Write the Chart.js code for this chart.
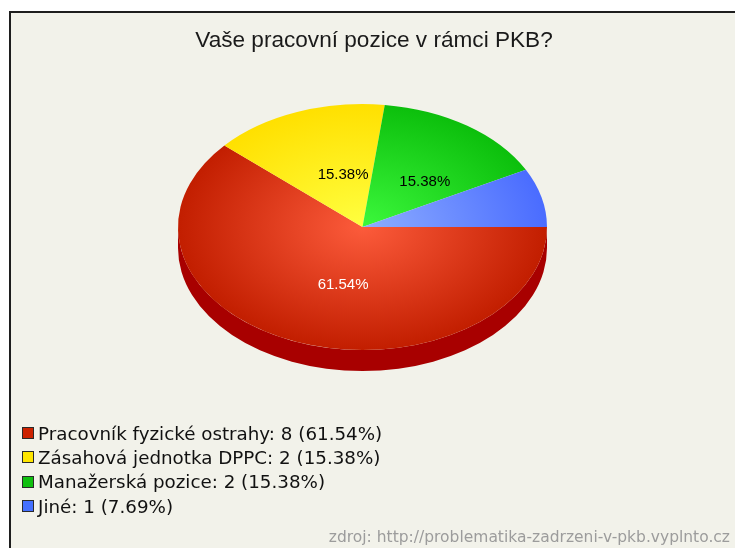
<!DOCTYPE html>
<html>
<head>
<meta charset="utf-8">
<script src="https://cdn.jsdelivr.net/npm/chart.js@4/dist/chart.umd.min.js"></script>
<style>
  html, body { margin: 0; padding: 0; background: #fff; overflow: hidden; }
  #frame {
    position: absolute; left: 9px; top: 11px; width: 760px; height: 560px;
    background: #f2f2ea; border-left: 2px solid #1e1e1e; border-top: 2px solid #1e1e1e;
  }
  #pie { position: absolute; left: 0; top: 0; }
  #title {
    position: absolute; left: 0; top: 29px; width: 748px; text-align: center;
    font: 22.6px/22px "Liberation Sans", Arial, sans-serif; color: #1a1a1a;
  }
  #legend { position: absolute; left: 22px; top: 421px; font: 18.3px "DejaVu Sans", sans-serif; color: #111; }
  #legend .row { display: flex; align-items: center; height: 24.33px; white-space: nowrap; }
  #legend .box { width: 12px; height: 12px; box-sizing: border-box; border: 1px solid #2a2a2a; margin-right: 4px; }
  #source {
    position: absolute; right: 5px; top: 529px; white-space: nowrap;
    font: 15.5px/16px "DejaVu Sans", sans-serif; color: #9c9c9c;
  }
</style>
</head>
<body>
<div id="frame"></div>
<canvas id="pie" width="735" height="548"></canvas>
<div id="title"></div>
<div id="legend"></div>
<div id="source"></div>
<script>
const chartTitle = 'Vaše pracovní pozice v rámci PKB?';
const sourceNote = 'zdroj: http://problematika-zadrzeni-v-pkb.vyplnto.cz';
const categories = ['Pracovník fyzické ostrahy', 'Zásahová jednotka DPPC', 'Manažerská pozice', 'Jiné'];
const counts = [8, 2, 2, 1];

// colours: lit centre / rim of each slice, side wall, legend swatch, label text
const faceInner = ['#fc5b3b', '#ffff40', '#3cf83c', '#8eaeff'];
const faceOuter = ['#c21e00', '#ffe000', '#0cbf0c', '#4a6cff'];
const sideColors = ['#a80000', '#c0a800', '#008a00', '#2244c0'];
const swatchColors = ['#cc2200', '#ffe600', '#10c010', '#4470ff'];
const labelColors = ['#ffffff', '#000000', '#000000', '#000000'];

const total = counts.reduce((a, b) => a + b, 0);
const percents = counts.map(v => v / total * 100);

const DEPTH = 21;          // height of the pie's side wall
const LABEL_RADIUS = 0.48; // where the % labels sit between centre and rim
const LABEL_SHIFT = [12, 3];

document.getElementById('title').textContent = chartTitle;
document.getElementById('source').textContent = sourceNote;
const legendEl = document.getElementById('legend');
categories.forEach((cat, i) => {
    const row = document.createElement('div');
    row.className = 'row';
    const box = document.createElement('span');
    box.className = 'box';
    box.style.background = swatchColors[i];
    const txt = document.createElement('span');
    txt.textContent = `${cat}: ${counts[i]} (${percents[i].toFixed(2)}%)`;
    row.appendChild(box);
    row.appendChild(txt);
    legendEl.appendChild(row);
});

function ellipseGeometry(chart) {
    const a = chart.chartArea;
    return {
        cx: (a.left + a.right) / 2,
        cy: (a.top + a.bottom) / 2,
        rx: a.width / 2,
        ry: a.height / 2,
        r: Math.min(a.width, a.height) / 2
    };
}

// squash the round pie into an ellipse and give it a side wall
const tiltedPie = {
    id: 'tiltedPie',
    beforeDatasetsDraw(chart) {
        const ctx = chart.ctx;
        const g = ellipseGeometry(chart);
        const meta = chart.getDatasetMeta(0);
        meta.data.forEach((arc, i) => {
            const { startAngle, endAngle } = arc.getProps(['startAngle', 'endAngle'], true);
            [-2 * Math.PI, 0, 2 * Math.PI].forEach(shift => {
                const a = Math.max(startAngle + shift, 0);
                const b = Math.min(endAngle + shift, Math.PI);
                if (b <= a) return;
                ctx.save();
                ctx.beginPath();
                ctx.ellipse(g.cx, g.cy, g.rx, g.ry, 0, a, b);
                ctx.ellipse(g.cx, g.cy + DEPTH, g.rx, g.ry, 0, b, a, true);
                ctx.closePath();
                ctx.fillStyle = sideColors[i];
                ctx.fill();
                ctx.restore();
            });
        });
        ctx.save();
        ctx.translate(g.cx, g.cy);
        ctx.scale(g.rx / g.r, g.ry / g.r);
        ctx.translate(-g.cx, -g.cy);
    },
    afterDatasetsDraw(chart) {
        const ctx = chart.ctx;
        ctx.restore();
        const g = ellipseGeometry(chart);
        const meta = chart.getDatasetMeta(0);
        ctx.save();
        ctx.font = '15px "Liberation Sans", Arial, sans-serif';
        ctx.textAlign = 'center';
        ctx.textBaseline = 'middle';
        meta.data.forEach((arc, i) => {
            if (percents[i] < 10) return;
            const { startAngle, endAngle } = arc.getProps(['startAngle', 'endAngle'], true);
            const mid = (startAngle + endAngle) / 2;
            const x = g.cx + Math.cos(mid) * g.rx * LABEL_RADIUS + LABEL_SHIFT[0];
            const y = g.cy + Math.sin(mid) * g.ry * LABEL_RADIUS + LABEL_SHIFT[1];
            ctx.fillStyle = labelColors[i];
            ctx.fillText(percents[i].toFixed(2) + '%', x, y);
        });
        ctx.restore();
    }
};

function sliceGradient(context) {
    const chart = context.chart;
    const i = context.dataIndex;
    if (!chart.chartArea) return faceOuter[i];
    const g = ellipseGeometry(chart);
    const grad = chart.ctx.createRadialGradient(g.cx, g.cy, 0, g.cx, g.cy, g.r);
    grad.addColorStop(0, faceInner[i]);
    grad.addColorStop(1, faceOuter[i]);
    return grad;
}

new Chart(document.getElementById('pie'), {
    type: 'pie',
    data: {
        labels: categories,
        datasets: [{
            data: counts,
            backgroundColor: sliceGradient,
            borderWidth: 0,
            hoverOffset: 0
        }]
    },
    options: {
        responsive: false,
        animation: false,
        rotation: 90,
        layout: { padding: { left: 178, right: 188, top: 104, bottom: 198 } },
        plugins: {
            legend: { display: false },
            title: { display: false },
            tooltip: { enabled: false }
        },
        events: []
    },
    plugins: [tiltedPie]
});
</script>
</body>
</html>
